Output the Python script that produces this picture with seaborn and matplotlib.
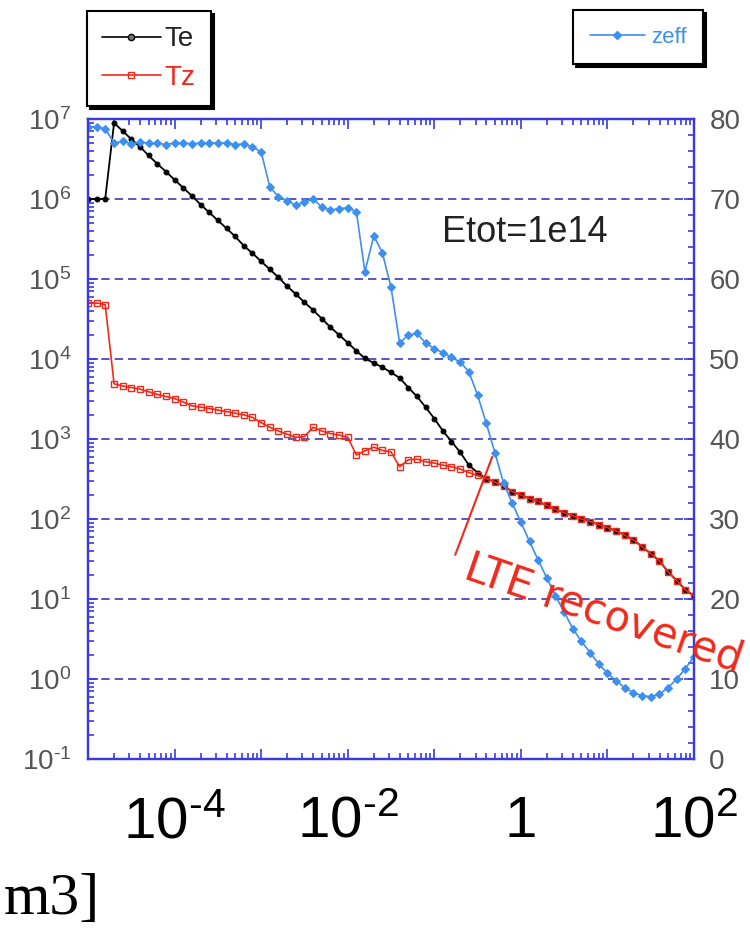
import numpy as np
import pandas as pd
import matplotlib
matplotlib.use("Agg")
import matplotlib.pyplot as plt
import matplotlib.ticker as mticker
from matplotlib.lines import Line2D
import seaborn as sns

# ---------------- data ----------------
density = [1.0e-5, 1.26e-5, 1.58e-5, 2.0e-5, 2.51e-5, 3.16e-5, 3.98e-5, 5.01e-5, 6.31e-5, 7.94e-5,
           1.0e-4, 1.26e-4, 1.58e-4, 2.0e-4, 2.51e-4, 3.16e-4, 3.98e-4, 5.01e-4, 6.31e-4, 7.94e-4,
           1.0e-3, 1.26e-3, 1.58e-3, 2.0e-3, 2.51e-3, 3.16e-3, 3.98e-3, 5.01e-3, 6.31e-3, 7.94e-3,
           1.0e-2, 1.26e-2, 1.58e-2, 2.0e-2, 2.51e-2, 3.16e-2, 3.98e-2, 5.01e-2, 6.31e-2, 7.94e-2,
           1.0e-1, 1.26e-1, 1.58e-1, 2.0e-1, 2.51e-1, 3.16e-1, 3.98e-1, 5.01e-1, 6.31e-1, 7.94e-1,
           1.0, 1.26, 1.58, 2.0, 2.51, 3.16, 3.98, 5.01, 6.31, 7.94,
           10.0, 12.6, 15.8, 20.0, 25.1, 31.6, 39.8, 50.1, 63.1, 79.4,
           100.0]

Te = [1.0e6, 1.0e6, 1.0e6, 8.9e6, 7.1e6, 5.6e6, 4.5e6, 3.5e6, 2.75e6, 2.2e6,
      1.74e6, 1.38e6, 1.1e6, 8.5e5, 6.8e5, 5.4e5, 4.3e5, 3.4e5, 2.6e5, 2.1e5,
      1.66e5, 1.32e5, 1.05e5, 8.1e4, 6.5e4, 5.1e4, 4.1e4, 3.2e4, 2.5e4, 2.0e4,
      1.6e4, 1.26e4, 1.02e4, 8.9e3, 7.9e3, 6.8e3, 5.8e3, 4.4e3, 3.4e3, 2.5e3,
      1.8e3, 1.26e3, 9.3e2, 6.8e2, 4.7e2, 3.8e2, 3.2e2, 2.9e2, 2.6e2, 2.2e2,
      2.0e2, 1.8e2, 1.66e2, 1.48e2, 1.32e2, 1.2e2, 1.1e2, 1.0e2, 9.3e1, 8.5e1,
      7.8e1, 7.1e1, 6.3e1, 5.5e1, 4.5e1, 3.7e1, 3.0e1, 2.2e1, 1.7e1, 1.3e1,
      1.1e1]

Tz = [5.0e4, 5.0e4, 4.8e4, 4.9e3, 4.6e3, 4.4e3, 4.2e3, 3.9e3, 3.6e3, 3.4e3,
      3.2e3, 2.9e3, 2.6e3, 2.5e3, 2.4e3, 2.3e3, 2.2e3, 2.1e3, 2.0e3, 1.86e3,
      1.6e3, 1.4e3, 1.26e3, 1.15e3, 1.05e3, 1.07e3, 1.4e3, 1.26e3, 1.17e3, 1.12e3,
      1.05e3, 6.3e2, 7.1e2, 7.9e2, 7.2e2, 6.9e2, 4.5e2, 5.5e2, 5.6e2, 5.2e2,
      5.0e2, 4.7e2, 4.5e2, 4.2e2, 3.8e2, 3.5e2, 3.2e2, 2.9e2, 2.6e2, 2.2e2,
      2.0e2, 1.8e2, 1.66e2, 1.48e2, 1.32e2, 1.2e2, 1.1e2, 1.0e2, 9.3e1, 8.5e1,
      7.8e1, 7.1e1, 6.3e1, 5.5e1, 4.5e1, 3.7e1, 3.0e1, 2.2e1, 1.7e1, 1.3e1,
      1.1e1]

zeff = [79.0, 79.0, 78.8, 77.0, 77.2, 76.9, 77.1, 77.0, 77.0, 76.8,
        77.0, 77.0, 76.9, 77.0, 77.0, 77.0, 77.0, 76.8, 76.9, 76.5,
        75.9, 71.5, 70.3, 69.8, 69.2, 69.6, 70.0, 69.0, 68.6, 68.8,
        68.9, 68.4, 60.9, 65.4, 63.3, 59.0, 52.0, 53.0, 53.2, 52.0,
        51.3, 50.8, 50.2, 49.6, 48.4, 45.5, 42.0, 38.3, 34.5, 32.0,
        29.6, 27.2, 24.9, 22.6, 20.4, 18.4, 16.3, 14.7, 13.3, 11.9,
        10.7, 9.8, 8.9, 8.3, 7.9, 7.8, 8.1, 8.9, 10.0, 11.3,
        12.8]

HY = '\u2010'  # short hyphen as in the original tick labels
x_ticks = [1e-5, 1e-4, 1e-3, 1e-2, 1e-1, 1e0, 1e1, 1e2]
x_tick_labels = ['', r'$\mathregular{10^{' + HY + '4}}$', '', r'$\mathregular{10^{' + HY + '2}}$', '',
                 '1', '', r'$\mathregular{10^{2}}$']
y_ticks = [1e-1, 1e0, 1e1, 1e2, 1e3, 1e4, 1e5, 1e6, 1e7]
y_tick_labels = [r'$\mathregular{10^{' + HY + '1}}$', r'$\mathregular{10^{0}}$', r'$\mathregular{10^{1}}$',
                 r'$\mathregular{10^{2}}$', r'$\mathregular{10^{3}}$', r'$\mathregular{10^{4}}$',
                 r'$\mathregular{10^{5}}$', r'$\mathregular{10^{6}}$', r'$\mathregular{10^{7}}$']
z_ticks = [0, 10, 20, 30, 40, 50, 60, 70, 80]

df = pd.DataFrame({"density": density, "Te": Te, "Tz": Tz, "zeff": zeff})

# ---------------- style ----------------
sns.set_theme(style="white")
plt.rcParams['font.family'] = ['Liberation Sans', 'DejaVu Sans']

BLUE_AX = '#3a3ae0'
GRID = '#3a3ab8'
C_TE = 'black'
C_TZ = '#f02a1a'
C_Z = '#3d8ff0'
LBL = '#555555'

fig = plt.figure(figsize=(7.5, 9.33), dpi=100)
ax = fig.add_axes([88/750, 1 - 759/933, (694 - 88)/750, (759 - 119)/933])
ax.set_xscale('log')
ax.set_yscale('log')

sns.lineplot(data=df, x="density", y="Te", ax=ax, color=C_TE, lw=1.3,
             marker='o', markersize=3.5, markeredgecolor=C_TE, markerfacecolor=C_TE,
             estimator=None, sort=False, legend=False, zorder=3)
sns.lineplot(data=df, x="density", y="Tz", ax=ax, color=C_TZ, lw=1.2,
             marker='s', markersize=4, markeredgecolor=C_TZ, markerfacecolor='none',
             markeredgewidth=1.0, estimator=None, sort=False, legend=False, zorder=4)

ax.set_xlim(1e-5, 1e2)
ax.set_ylim(1e-1, 1e7)
ax.set_xlabel('')
ax.set_ylabel('')

ax2 = ax.twinx()
sns.lineplot(data=df, x="density", y="zeff", ax=ax2, color=C_Z, lw=1.2,
             marker='D', markersize=4.5, markeredgecolor=C_Z, markerfacecolor=C_Z,
             estimator=None, sort=False, legend=False)
ax2.set_ylim(0, 80)
ax2.set_xlim(1e-5, 1e2)
ax2.set_ylabel('')
ax2.set_xlabel('')

# grid
ax.yaxis.grid(True, which='major', color=GRID, ls=(0, (5, 3)), lw=1.2)
ax.xaxis.grid(False)
ax2.grid(False)

# ticks
ax.xaxis.set_major_locator(mticker.FixedLocator(x_ticks))
ax.xaxis.set_major_formatter(mticker.FixedFormatter(x_tick_labels))
ax.xaxis.set_minor_locator(mticker.LogLocator(base=10, subs=np.arange(2, 10), numticks=20))
ax.xaxis.set_minor_formatter(mticker.NullFormatter())
ax.yaxis.set_major_locator(mticker.FixedLocator(y_ticks))
ax.yaxis.set_major_formatter(mticker.FixedFormatter(y_tick_labels))
ax.yaxis.set_minor_locator(mticker.LogLocator(base=10, subs=np.arange(2, 10), numticks=20))
ax.yaxis.set_minor_formatter(mticker.NullFormatter())

ax.tick_params(axis='x', which='both', direction='in', top=True, bottom=True,
               color=BLUE_AX, width=1.2)
ax.tick_params(axis='x', which='major', length=7, labelsize=42, labelcolor='black', pad=26)
ax.tick_params(axis='x', which='minor', length=4)
ax.tick_params(axis='y', which='both', direction='in', left=True, right=False,
               color=BLUE_AX, width=1.2)
ax.tick_params(axis='y', which='major', length=7, labelsize=20, labelcolor=LBL, pad=12)
ax.tick_params(axis='y', which='minor', length=4)

ax2.yaxis.set_major_locator(mticker.FixedLocator(z_ticks))
ax2.yaxis.set_minor_locator(mticker.MultipleLocator(2))
ax2.tick_params(axis='y', which='both', direction='in', color=BLUE_AX, width=1.2)
ax2.tick_params(axis='y', which='major', length=7, labelsize=20, labelcolor=LBL, pad=11)
ax2.tick_params(axis='y', which='minor', length=4)

for a in (ax, ax2):
    for s in a.spines.values():
        s.set_visible(True)
        s.set_color(BLUE_AX)
        s.set_linewidth(1.6)

# ---------------- legends ----------------
h_te = Line2D([], [], color=C_TE, lw=1.2, marker='o', ms=4.5, mfc='#777777', mec=C_TE)
h_tz = Line2D([], [], color=C_TZ, lw=1.2, marker='s', ms=4.5, mfc='none', mec=C_TZ)
leg1 = fig.legend([h_te, h_tz], ['Te', 'Tz'], loc='upper left',
                  bbox_to_anchor=(87/750, 1 - 11/933), bbox_transform=fig.transFigure,
                  fontsize=20, frameon=True, fancybox=False, framealpha=1,
                  edgecolor='black', handlelength=2.1, handletextpad=0.15,
                  labelspacing=0.45, borderpad=0.55, borderaxespad=0,
                  shadow={'facecolor': 'black', 'edgecolor': 'black', 'alpha': 1})
leg1.get_frame().set_linewidth(1.5)
leg1.get_texts()[0].set_color('#222222')
leg1.get_texts()[1].set_color(C_TZ)

h_z = Line2D([], [], color=C_Z, lw=1.2, marker='D', ms=4.5, mfc=C_Z, mec=C_Z)
leg2 = fig.legend([h_z], ['zeff'], loc='upper right',
                  bbox_to_anchor=(703/750, 1 - 10/933), bbox_transform=fig.transFigure,
                  fontsize=16, frameon=True, fancybox=False, framealpha=1,
                  edgecolor='black', handlelength=2.5, handletextpad=0.25,
                  borderpad=0.75, borderaxespad=0,
                  shadow={'facecolor': 'black', 'edgecolor': 'black', 'alpha': 1})
leg2.get_frame().set_linewidth(1.5)
leg2.get_texts()[0].set_color(C_Z)

# ---------------- annotations ----------------
ax2.text(0.72, 0.822, 'Etot=1e14', transform=ax2.transAxes, ha='center', va='center',
         fontsize=26, color='#222222', family=['Liberation Sans', 'DejaVu Sans'])
ax2.plot([0.606, 0.667], [0.319, 0.472], transform=ax2.transAxes, color=C_TZ, lw=1.5,
         clip_on=False)
ax2.text(0.617, 0.284, 'LTE recovered', transform=ax2.transAxes, rotation=-19,
         rotation_mode='anchor', ha='left', va='baseline', fontsize=30, color=C_TZ,
         family=['DejaVu Sans'], clip_on=False)

fig.text(4/750, 1 - 914/933, 'm3]', ha='left', va='baseline', fontsize=43,
         color='black', family=['Liberation Serif', 'DejaVu Serif'])

fig.savefig('out.png', dpi=100)
